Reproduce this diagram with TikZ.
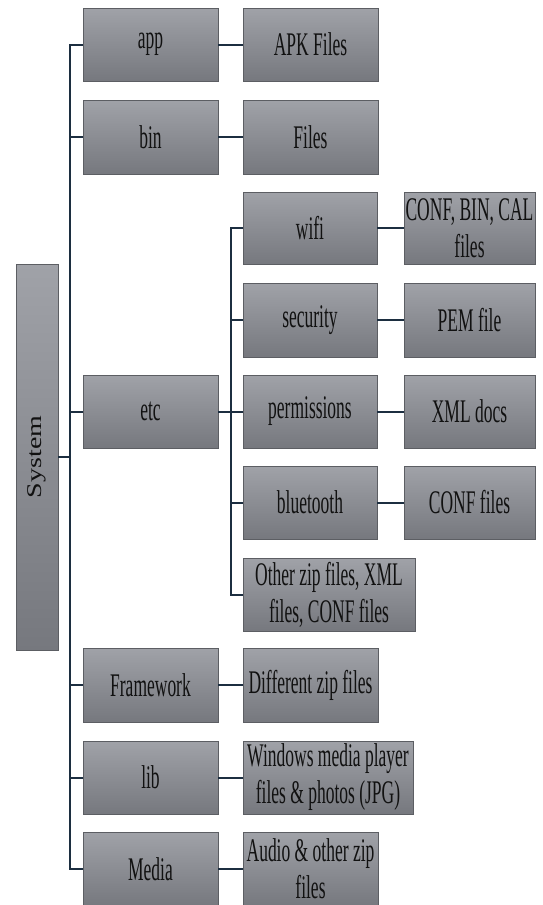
\documentclass[tikz,border=0pt]{standalone}
\usepackage{fontspec}
\setmainfont{Liberation Serif}
\newfontfamily\narrowfont[FakeStretch=0.53]{Liberation Serif}
\definecolor{boxtop}{HTML}{A0A2A8}
\definecolor{boxbot}{HTML}{76787E}
\definecolor{boxline}{HTML}{5C5E63}
\definecolor{linec}{HTML}{1C2E40}
\definecolor{textc}{HTML}{111111}
\begin{document}
\begin{tikzpicture}[x=1pt,y=-1pt,
  box/.style={draw=boxline, line width=0.8pt, top color=boxtop, bottom color=boxbot,
    inner sep=0pt, align=center, text=textc,
    font=\narrowfont\fontsize{33}{37}\selectfont},
  conn/.style={draw=linec, line width=2pt}]
\useasboundingbox (0,0) rectangle (543,905);
% System
\node[box, minimum width=42pt, minimum height=386pt, font=\fontsize{28}{30}\selectfont] (System) at (37,457)
  {\rotatebox{90}{\scalebox{1}[0.75]{System}}};
% level 1
\node[box, minimum width=135pt, minimum height=73pt] (app) at (150.5,44.5) {app};
\node[box, minimum width=135pt, minimum height=74pt] (bin) at (150.5,137) {bin};
\node[box, minimum width=135pt, minimum height=73pt] (etc) at (150.5,411.5) {etc};
\node[box, minimum width=135pt, minimum height=74pt] (Framework) at (150.5,685) {Framework};
\node[box, minimum width=135pt, minimum height=73pt] (lib) at (150.5,777.5) {lib};
\node[box, minimum width=135pt, minimum height=74pt] (Media) at (150.5,869) {Media};
% level 2
\node[box, minimum width=135pt, minimum height=73pt] (APK) at (310.5,44.5) {APK Files};
\node[box, minimum width=135pt, minimum height=74pt] (Files) at (310.5,137) {Files};
\node[box, minimum width=134pt, minimum height=72pt] (wifi) at (310,228) {wifi};
\node[box, minimum width=134pt, minimum height=74pt] (security) at (310,320) {security};
\node[box, minimum width=134pt, minimum height=73pt] (permissions) at (310,411.5) {permissions};
\node[box, minimum width=134pt, minimum height=73pt] (bluetooth) at (310,502.5) {bluetooth};
\node[box, minimum width=172pt, minimum height=73pt] (Other) at (329,594.5) {Other zip files, XML\\files, CONF files};
\node[box, minimum width=135pt, minimum height=74pt] (Different) at (310.5,685) {Different zip files};
\node[box, minimum width=170pt, minimum height=73pt] (Windows) at (328,777.5) {Windows media player\\files \& photos (JPG)};
\node[box, minimum width=135pt, minimum height=74pt] (Audio) at (310.5,869) {Audio \& other zip\\files};
% level 3
\node[box, minimum width=131pt, minimum height=72pt] (CONFBIN) at (469.5,228) {CONF, BIN, CAL\\files};
\node[box, minimum width=131pt, minimum height=74pt] (PEM) at (469.5,320) {PEM file};
\node[box, minimum width=131pt, minimum height=73pt] (XML) at (469.5,411.5) {XML docs};
\node[box, minimum width=131pt, minimum height=73pt] (CONFF) at (469.5,502.5) {CONF files};
% connectors
\draw[conn] (System.east) -- ++(13,0);
\draw[conn] (app.west) -- ++(-13,0) |- (Media.west);
\draw[conn] (bin.west) -- ++(-13,0);
\draw[conn] (etc.west) -- ++(-13,0);
\draw[conn] (Framework.west) -- ++(-13,0);
\draw[conn] (lib.west) -- ++(-13,0);
\draw[conn] (app) -- (APK);
\draw[conn] (bin) -- (Files);
\draw[conn] (Framework) -- (Different);
\draw[conn] (lib.east) -- (lib.east -| Windows.west);
\draw[conn] (Media) -- (Audio);
\draw[conn] (etc) -- (permissions);
\draw[conn] (wifi.west) -- ++(-12,0) |- (Other.west);
\draw[conn] (security.west) -- ++(-12,0);
\draw[conn] (bluetooth.west) -- ++(-12,0);
\draw[conn] (wifi) -- (CONFBIN);
\draw[conn] (security) -- (PEM);
\draw[conn] (permissions) -- (XML);
\draw[conn] (bluetooth) -- (CONFF);
\end{tikzpicture}
\end{document}
